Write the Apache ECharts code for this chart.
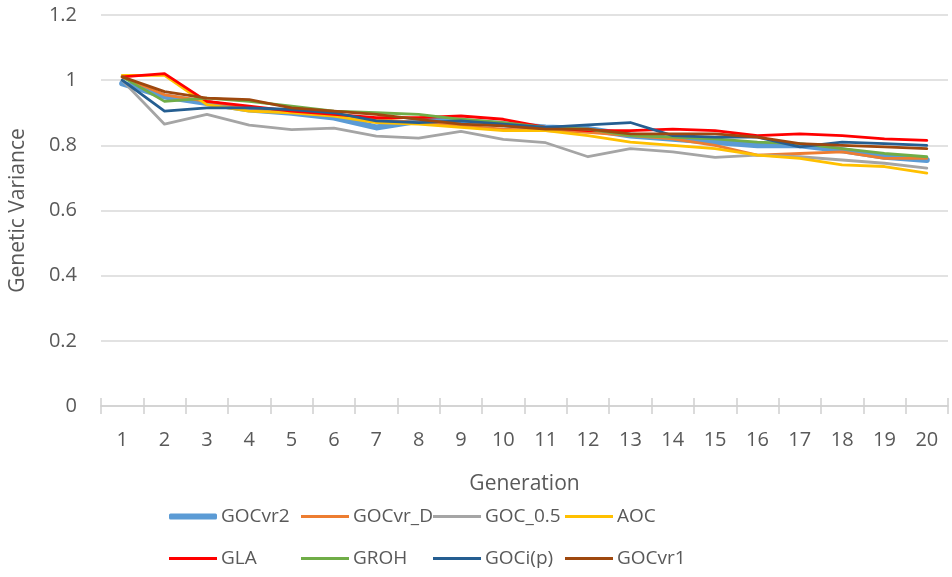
<!DOCTYPE html>
<html><head><meta charset="utf-8">
<script src="https://cdn.jsdelivr.net/npm/echarts@6/dist/echarts.min.js"></script>
<style>html,body{margin:0;padding:0;background:#fff}#c{width:952px;height:577px}</style>
</head><body><div id="c"></div>
<script>
var categories = ['1','2','3','4','5','6','7','8','9','10','11','12','13','14','15','16','17','18','19','20'];
var GOCvr2  = [0.99,0.95,0.93,0.91,0.90,0.885,0.855,0.875,0.875,0.865,0.855,0.85,0.83,0.82,0.81,0.80,0.80,0.785,0.765,0.755];
var GOCvr_D = [1.01,0.955,0.935,0.915,0.905,0.895,0.88,0.87,0.86,0.85,0.845,0.84,0.83,0.82,0.80,0.77,0.775,0.78,0.76,0.76];
var GOC_05  = [1.0,0.865,0.895,0.862,0.848,0.853,0.828,0.822,0.843,0.818,0.808,0.765,0.79,0.78,0.763,0.77,0.765,0.755,0.745,0.73];
var AOC     = [1.015,1.015,0.925,0.905,0.90,0.89,0.87,0.865,0.855,0.845,0.845,0.83,0.81,0.80,0.79,0.77,0.76,0.74,0.735,0.715];
var GLA     = [1.01,1.02,0.935,0.92,0.905,0.895,0.885,0.885,0.89,0.88,0.855,0.845,0.845,0.85,0.845,0.83,0.835,0.83,0.82,0.815];
var GROH    = [1.01,0.935,0.945,0.935,0.92,0.905,0.90,0.895,0.88,0.87,0.855,0.85,0.83,0.825,0.82,0.81,0.805,0.79,0.775,0.765];
var GOCip   = [1.0,0.905,0.915,0.915,0.91,0.90,0.875,0.87,0.875,0.865,0.855,0.863,0.87,0.83,0.825,0.825,0.795,0.81,0.805,0.80];
var GOCvr1  = [1.01,0.965,0.945,0.94,0.915,0.905,0.895,0.88,0.865,0.86,0.85,0.85,0.835,0.835,0.835,0.825,0.805,0.80,0.795,0.79];

var names  = ['GOCvr2','GOCvr_D','GOC_0.5','AOC','GLA','GROH','GOCi(p)','GOCvr1'];
var values = [GOCvr2,GOCvr_D,GOC_05,AOC,GLA,GROH,GOCip,GOCvr1];
var colors = ['#5B9BD5','#ED7D31','#A5A5A5','#FFC000','#FF0000','#70AD47','#255E91','#9E480E'];
var widths = [6,2.8,2.8,2.8,2.8,2.8,2.8,2.8];

var font = '"Open Sans", "Noto Sans", sans-serif';
var txt = '#595959';

var legends = names.map(function(n,i){
  return {
    data:[n], left: 164 + (i%4)*132, top: i<4 ? 502 : 544,
    itemWidth: 48, itemHeight: widths[i], itemGap: 4,
    icon: i===0 ? 'roundRect' : 'rect',
    textStyle:{color:txt, fontSize:19, fontFamily:font, padding:[0,0,0,-1]},
    selectedMode:false
  };
});

var series = names.map(function(n,i){
  return {
    name:n, type:'line', data:values[i], symbol:'none',
    lineStyle:{color:colors[i], width:widths[i], cap:'round', join:'round'},
    itemStyle:{color:colors[i]},
    emphasis:{disabled:true}, animation:false
  };
});

var chart = echarts.init(document.getElementById('c'));
chart.setOption({
  animation:false,
  textStyle:{fontFamily:font},
  grid:{left:96, right:4, top:15, bottom:171},
  legend: legends,
  xAxis:[{
    type:'category', data:categories, boundaryGap:true,
    name:'Generation', nameLocation:'middle', nameGap:68,
    nameTextStyle:{color:txt, fontSize:21, fontFamily:font},
    axisLine:{lineStyle:{color:'#D0D0D0', width:1.5}},
    axisTick:{show:true, length:8, lineStyle:{color:'#D0D0D0', width:1.5}},
    axisLabel:{color:txt, fontSize:20, fontFamily:font, margin:24}
  },{
    type:'category', data:categories, boundaryGap:true, position:'bottom',
    axisLine:{show:false},
    axisTick:{show:true, inside:true, length:8, lineStyle:{color:'#D0D0D0', width:1.5}},
    axisLabel:{show:false}, splitLine:{show:false}
  }],
  yAxis:{
    type:'value', min:0, max:1.2, interval:0.2,
    name:'Genetic Variance', nameLocation:'middle', nameGap:72,
    nameTextStyle:{color:txt, fontSize:21, fontFamily:font},
    axisLine:{show:false}, axisTick:{show:false},
    axisLabel:{color:txt, fontSize:20, fontFamily:font, margin:24,
      formatter:function(v){return String(Math.round(v*10)/10);}},
    splitLine:{lineStyle:{color:'#D9D9D9', width:1.5}}
  },
  series: series
});
</script></body></html>
